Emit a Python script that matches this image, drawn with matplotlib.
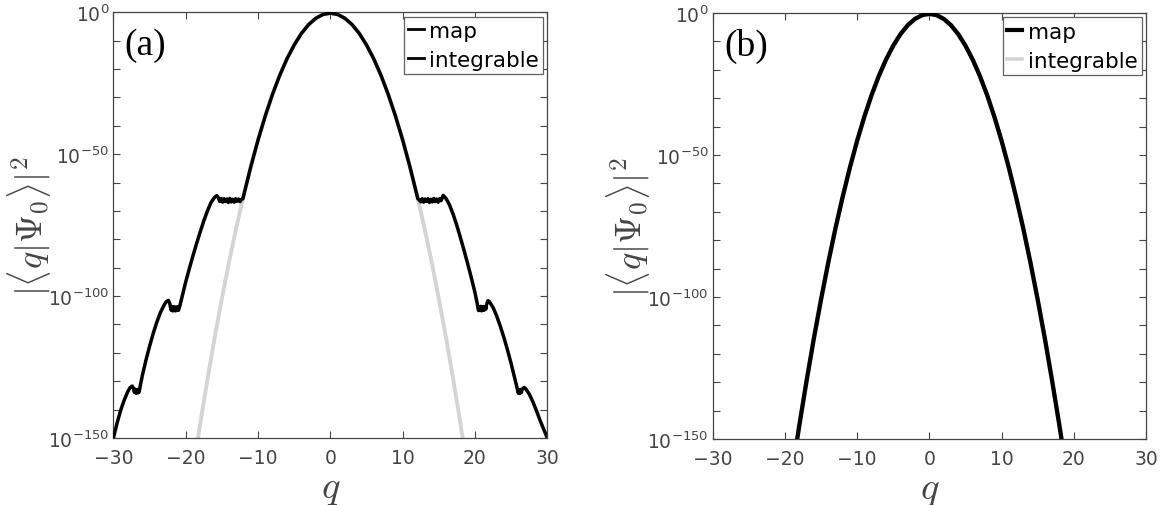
import matplotlib
matplotlib.use("Agg")
import matplotlib.pyplot as plt
from matplotlib.ticker import FixedLocator, NullFormatter
from matplotlib.lines import Line2D
import numpy as np

plt.rcParams['font.family'] = ['DejaVu Sans']
plt.rcParams['mathtext.fontset'] = 'cm'

# ---------------- data (q, and -log10 |<q|Psi0>|^2) -------------
# central lobe shared by both curves
q_center = [-12, -11, -10, -9, -8, -7, -6, -5, -4, -3, -2, -1, 0,
            1, 2, 3, 4, 5, 6, 7, 8, 9, 10, 11, 12]
d_center = [64.7, 54.4, 45.0, 36.5, 28.9, 22.2, 16.4, 11.5, 7.45, 4.32, 2.09, 0.75, 0.3,
            0.75, 2.09, 4.32, 7.45, 11.5, 16.4, 22.2, 28.9, 36.5, 45.0, 54.4, 64.7]

# panel (a) "map": left tail (q < -12)
q_map_a_left = [-30.0, -29.5, -29.0, -28.5, -28.0, -27.7, -27.4,
                -27.2, -27.1, -27.0, -26.9, -26.8, -26.7, -26.6, -26.5, -26.4,
                -26.3, -26.0, -25.5, -25.0, -24.5, -24.0, -23.5, -23.0, -22.7, -22.4,
                -22.2, -22.1, -22.0, -21.9, -21.8, -21.7, -21.6, -21.5, -21.4, -21.3,
                -21.2, -21.1, -21.0, -20.9,
                -20.8, -20.5, -20.0, -19.5, -19.0, -18.5, -18.0, -17.5, -17.0, -16.5, -16.0, -15.7,
                -15.5, -15.3, -15.1, -14.9, -14.7, -14.5, -14.3, -14.1, -13.9, -13.7,
                -13.5, -13.3, -13.1, -12.9, -12.7, -12.5, -12.3, -12.1]
d_map_a_left = [150.0, 144.8, 140.3, 136.6, 133.6, 132.3, 131.7,
                132.6, 133.9, 132.8, 134.2, 133.0, 134.1, 132.9, 134.0, 133.3,
                131.8, 128.0, 122.6, 117.7, 113.2, 109.2, 105.8, 103.2, 102.0, 101.5,
                102.6, 104.0, 105.0, 103.7, 105.2, 103.9, 105.1, 103.8, 105.2, 104.0,
                105.0, 103.7, 105.0, 104.1,
                103.3, 100.2, 95.0, 90.3, 85.8, 81.5, 77.4, 73.5, 70.0, 67.0, 65.2, 64.6,
                65.3, 66.6, 65.6, 66.9, 65.7, 66.7, 65.8, 67.0, 65.6, 66.8,
                65.9, 66.9, 65.7, 66.6, 65.8, 66.7, 66.0, 65.7]

# panel (a) "map": right tail (q > 12)
q_map_a_right = [12.1, 12.3, 12.5, 12.7, 12.9, 13.1, 13.3, 13.5, 13.7, 13.9,
                 14.1, 14.3, 14.5, 14.7, 14.9, 15.1, 15.3, 15.6,
                 16.0, 16.5, 17.0, 17.5, 18.0, 18.5, 19.0, 19.5, 20.0, 20.3,
                 20.4, 20.5, 20.6, 20.7, 20.8, 20.9, 21.0, 21.1, 21.2, 21.3, 21.4, 21.5, 21.6,
                 21.8, 22.0, 22.5, 23.0, 23.5, 24.0, 24.5, 25.0, 25.5, 25.9,
                 26.0, 26.1, 26.2, 26.3, 26.4, 26.5, 26.6,
                 26.8, 27.0, 27.5, 28.0, 28.5, 29.0, 29.5, 30.0]
d_map_a_right = [65.7, 66.1, 66.8, 65.7, 66.9, 65.8, 66.6, 65.7, 67.0, 65.9,
                 66.8, 65.6, 66.7, 65.8, 66.9, 65.7, 66.4, 64.5,
                 65.6, 68.0, 71.3, 75.2, 79.5, 84.0, 88.7, 93.6, 98.8, 102.5,
                 104.1, 105.1, 103.8, 105.0, 103.6, 105.2, 103.9, 105.0, 103.7, 104.9, 103.8, 104.6, 103.0,
                 101.6, 102.0, 104.0, 107.0, 110.6, 114.6, 119.0, 123.8, 129.0, 133.0,
                 134.2, 133.0, 134.3, 132.9, 134.0, 133.1, 132.6,
                 132.2, 132.6, 134.5, 137.2, 140.4, 143.8, 146.9, 150.0]

# panel (a) "integrable": gaussian-like tails
q_int_tail_left = [-18.6, -18.0, -17.0, -16.0, -15.0, -14.0, -13.0]
d_int_tail_left = [155.0, 145.1, 129.5, 114.7, 100.9, 87.9, 75.8]
q_int_tail_right = [13.0, 14.0, 15.0, 16.0, 17.0, 18.0, 18.6]
d_int_tail_right = [75.8, 87.9, 100.9, 114.7, 129.5, 145.1, 155.0]

# panel (b): both curves coincide
q_b = [-18.6, -18.0, -17.0, -16.0, -15.0, -14.0, -13.0] + q_center + [13.0, 14.0, 15.0, 16.0, 17.0, 18.0, 18.6]
d_map_b = [155.0, 145.1, 129.5, 114.7, 100.9, 87.9, 75.8] + d_center + [75.8, 87.9, 100.9, 114.7, 129.5, 145.1, 155.0]
d_int_b = list(d_map_b)

legend_labels = ["map", "integrable"]
panel_labels = ["(a)", "(b)"]
x_ticks = [-30, -20, -10, 0, 10, 20, 30]
y_major_exp = [-150, -100, -50, 0]
y_minor_exp = [-140, -130, -120, -110, -90, -80, -70, -60, -40, -30, -20, -10]

# ---------------- build curves ----------------
q_map_a = q_map_a_left + q_center + q_map_a_right
d_map_a = d_map_a_left + d_center + d_map_a_right
q_int_a = q_int_tail_left + q_center + q_int_tail_right
d_int_a = d_int_tail_left + d_center + d_int_tail_right

def val(d):
    return 10.0 ** (-np.asarray(d, dtype=float))

AX_COL = '#454545'
GRAY = '#d4d4d4'

fig = plt.figure(figsize=(11.64, 5.06), dpi=100)
ax_a = fig.add_axes([113.4 / 1164, (506 - 439) / 506, 433.9 / 1164, 425.7 / 506])
ax_b = fig.add_axes([712.7 / 1164, (506 - 440) / 506, 433.3 / 1164, 426.0 / 506])

ax_a.plot(q_int_a, val(d_int_a), color=GRAY, lw=2.8, solid_joinstyle='round', zorder=2)
ax_a.plot(q_map_a, val(d_map_a), color='black', lw=2.5, solid_joinstyle='round', zorder=3)

ax_b.plot(q_b, val(d_int_b), color=GRAY, lw=2.8, zorder=2)
ax_b.plot(q_b, val(d_map_b), color='black', lw=3.1, zorder=3)

for ax, lab in zip([ax_a, ax_b], panel_labels):
    ax.set_yscale('log')
    ax.set_xlim(-30, 30)
    ax.set_ylim(1e-150, 1.0)
    ax.set_xticks(x_ticks)
    ax.set_xticklabels([f"{t}".replace('-', '\u2212') for t in x_ticks])
    ax.yaxis.set_major_locator(FixedLocator([10.0 ** e for e in y_major_exp]))
    ax.set_yticklabels([r'$\mathdefault{10^{%d}}$' % e for e in y_major_exp])
    ax.yaxis.set_minor_locator(FixedLocator([10.0 ** e for e in y_minor_exp]))
    ax.yaxis.set_minor_formatter(NullFormatter())
    ax.xaxis.set_minor_locator(FixedLocator([]))
    ax.tick_params(which='both', direction='in', top=True, right=True, length=5,
                   width=0.8, color=AX_COL, labelcolor=AX_COL, labelsize=13.5)
    ax.tick_params(axis='x', pad=7)
    ax.tick_params(axis='y', pad=3)
    for sp in ax.spines.values():
        sp.set_color(AX_COL)
        sp.set_linewidth(0.9)
    ax.set_xlabel('$q$', fontsize=28, color=AX_COL)
    ax.xaxis.set_label_coords(0.5, -0.07)
    ax.set_ylabel(r'$|\langle q|\Psi_0\rangle|^2$', fontsize=26, color=AX_COL)
    ax.text(0.026, 0.925, lab, transform=ax.transAxes, fontsize=27,
            family='Liberation Serif', va='center', ha='left', color='black')

ax_a.yaxis.set_label_coords(-0.139, 0.5)
ax_b.yaxis.set_label_coords(-0.140, 0.5)

handles_a = [Line2D([], [], color='black', lw=2.0), Line2D([], [], color='black', lw=2.0)]
handles_b = [Line2D([], [], color='black', lw=3.0), Line2D([], [], color=GRAY, lw=2.6)]
for ax, hs in zip([ax_a, ax_b], [handles_a, handles_b]):
    leg = ax.legend(hs, legend_labels, loc='upper right', fontsize=15.5,
                    handlelength=0.7, handletextpad=0.25, borderpad=0.2,
                    labelspacing=0.42, borderaxespad=0.2, fancybox=False,
                    framealpha=1.0, edgecolor='#606060')
    leg.get_frame().set_linewidth(0.9)
    for t in leg.get_texts():
        t.set_color('black')

fig.savefig('out.png', dpi=100)
